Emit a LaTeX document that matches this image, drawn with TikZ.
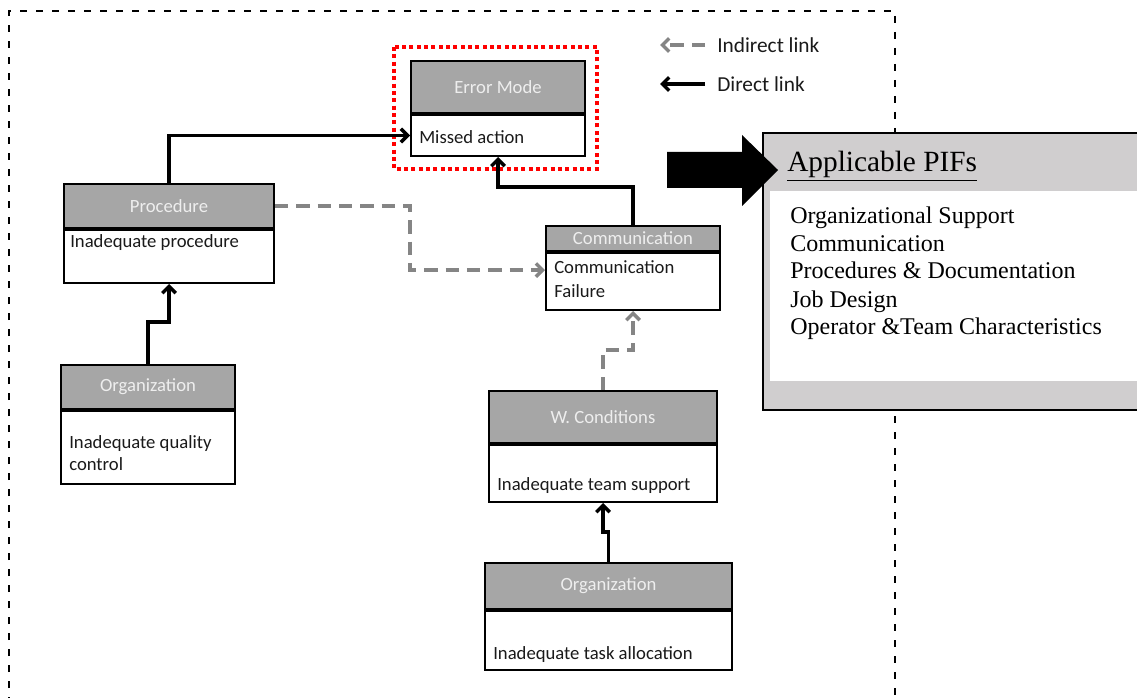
\documentclass[tikz,border=0pt]{standalone}
\usepackage{fontspec}
\setmainfont{Liberation Serif}
\newfontfamily\boxfont{Carlito}
\usetikzlibrary{arrows.meta,calc}
\definecolor{hdrgray}{HTML}{A6A6A6}
\definecolor{pifgray}{HTML}{D0CECF}
\definecolor{linkgray}{HTML}{858585}
\definecolor{hdrtext}{HTML}{EEEEEE}
\definecolor{bodytext}{HTML}{1A1A1A}
\begin{document}
\begin{tikzpicture}[x=0.75pt,y=-0.75pt,
  hdr/.style={draw=black, line width=1.5pt, fill=hdrgray, anchor=north west,
    inner sep=0pt, text=hdrtext, font=\boxfont\fontsize{14}{16}\selectfont},
  bdy/.style={draw=black, line width=1.5pt, fill=white, anchor=north west, inner sep=0pt},
  btxt/.style={anchor=base west, inner sep=0pt, text=bodytext,
    font=\boxfont\fontsize{14}{16}\selectfont},
  legtxt/.style={anchor=west, inner sep=0pt, text=bodytext,
    font=\boxfont\fontsize{16}{18}\selectfont},
  piftxt/.style={anchor=base west, inner sep=0pt, font=\fontsize{18}{21}\selectfont},
  direct/.style={draw=black, line width=2.6pt,
    -{Straight Barb[length=5pt,width=10pt]}},
  indirect/.style={draw=linkgray, line width=2.6pt, dash pattern=on 10pt off 6pt,
    -{Straight Barb[length=5pt,width=10pt]}},
  frame/.style={draw=black, line width=1.8pt, dash pattern=on 5.25pt off 6.75pt},
  focus/.style={draw=red, line width=3pt, dash pattern=on 3pt off 2.5pt}
]
\useasboundingbox (0,0) rectangle (1137,698);

% outer dashed frame
\draw[frame] (9,720) -- (9,11) -- (895,11) -- (895,720);

% error mode
\node[hdr, minimum width={174*0.75pt}, minimum height={52*0.75pt}] (em-h) at (410,60) {Error Mode};
\node[bdy, minimum width={174*0.75pt}, minimum height={41*0.75pt}] (em) at (em-h.south west) {};
\node[btxt] (em-t) at (419,144) {Missed action};
\draw[focus] ($(em-h.north west)+(-16,-13)$) rectangle ($(em.south east)+(11,12)$);

% procedure
\node[hdr, minimum width={210*0.75pt}, minimum height={44*0.75pt}] (proc-h) at (63,183) {Procedure};
\node[bdy, minimum width={210*0.75pt}, minimum height={53*0.75pt}] (proc) at (proc-h.south west) {};
\node[btxt] (proc-t) at (70,248) {Inadequate procedure};

% organization (quality control)
\node[hdr, minimum width={174*0.75pt}, minimum height={44*0.75pt}] (orgl-h) at (60,364) {Organization};
\node[bdy, minimum width={174*0.75pt}, minimum height={73*0.75pt}] (orgl) at (orgl-h.south west) {};
\node[btxt] (orgl-t1) at (69,448) {Inadequate quality};
\node[btxt] (orgl-t2) at (69,470) {control};

% communication
\node[hdr, minimum width={174*0.75pt}, minimum height={25*0.75pt}] (comm-h) at (545,225) {Communication};
\node[bdy, minimum width={174*0.75pt}, minimum height={57*0.75pt}] (comm) at (comm-h.south west) {};
\node[btxt] (comm-t1) at (554,274) {Communication};
\node[btxt] (comm-t2) at (554,297) {Failure};

% working conditions
\node[hdr, minimum width={228*0.75pt}, minimum height={52*0.75pt}] (wc-h) at (488,390) {W. Conditions};
\node[bdy, minimum width={228*0.75pt}, minimum height={57*0.75pt}] (wc) at (wc-h.south west) {};
\node[btxt] (wc-t) at (497,490) {Inadequate team support};

% organization (task allocation)
\node[hdr, minimum width={247*0.75pt}, minimum height={46*0.75pt}] (orgb-h) at (484,562) {Organization};
\node[bdy, minimum width={247*0.75pt}, minimum height={59*0.75pt}] (orgb) at (orgb-h.south west) {};
\node[btxt] (orgb-t) at (493,659) {Inadequate task allocation};

% links
\draw[direct] (proc-h.north) |- (em.west);
\draw[direct] (comm-h.north) -- ++(0,-38) -| (em.south);
\draw[indirect] (proc-h.east) -- ++(135,0) |- ([yshift=8.6pt]comm.west);
\draw[direct] (orgl-h.north) -- ++(0,-42) -| (proc.south);
\draw[indirect] (wc-h.north) -- ++(0,-40) -| (comm.south);
\draw[direct] (orgb-h.north) -- ++(0,-30) -| (wc.south);

% legend
\node[legtxt] (ind) at (717,45) {Indirect link};
\node[legtxt] (dir) at (717,84) {Direct link};
\coordinate (ind-tip) at (660,45);
\coordinate (dir-tip) at (660,84);
\draw[indirect] ([xshift=-9pt]ind.west) -- (ind-tip);
\draw[direct] ([xshift=-9pt]dir.west) -- (dir-tip);

% applicable PIFs panel
\draw[line width=1.5pt, fill=pifgray] (763,133) rectangle (1150,410);
\fill[white] (770,191) rectangle (1150,381);
\node[anchor=base west, inner sep=0pt, font=\fontsize{22}{26}\selectfont] (pif-title) at (787,172) {\underline{Applicable PIFs}};
\node[piftxt] (pif1) at (790,224) {Organizational Support};
\node[piftxt] (pif2) at (790,252) {Communication};
\node[piftxt] (pif3) at (790,279) {Procedures \& Documentation};
\node[piftxt] (pif4) at (790,307) {Job Design};
\node[piftxt] (pif5) at (790,334) {Operator \&Team Characteristics};
\fill[black] (667,152) -- (742,152) -- (742,135) -- (778,170) -- (742,206) -- (742,188) -- (667,188) -- cycle;
\end{tikzpicture}
\end{document}
